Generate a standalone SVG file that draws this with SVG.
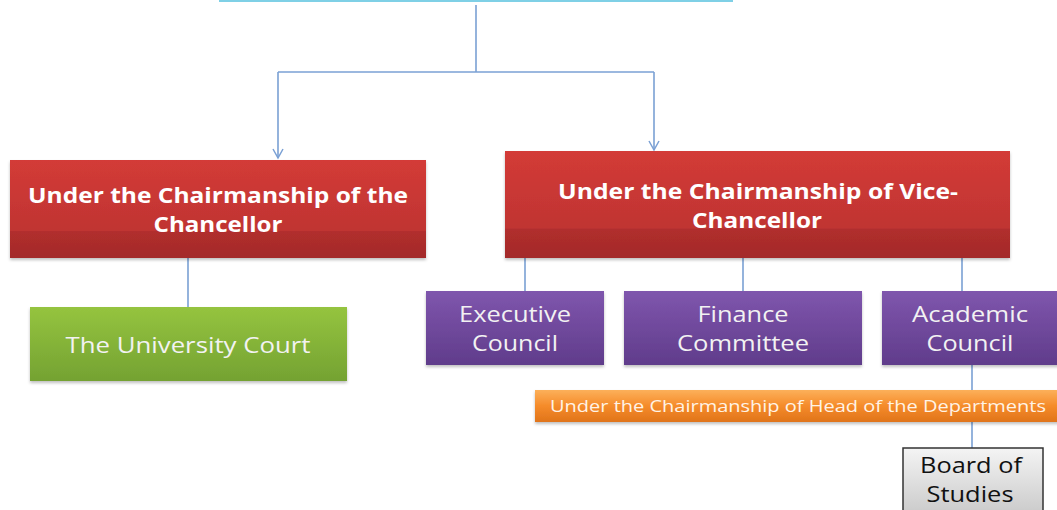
<svg xmlns="http://www.w3.org/2000/svg" width="1057" height="510" viewBox="0 0 1057 510">
<defs>
<linearGradient id="gRed" x1="0" y1="0" x2="0" y2="1">
<stop offset="0" stop-color="#d33b37"/><stop offset="0.72" stop-color="#c03432"/><stop offset="0.73" stop-color="#b12e2d"/><stop offset="1" stop-color="#a32a2a"/>
</linearGradient>
<linearGradient id="gGreen" x1="0" y1="0" x2="0" y2="1">
<stop offset="0" stop-color="#95c43f"/><stop offset="1" stop-color="#74a232"/>
</linearGradient>
<linearGradient id="gPurple" x1="0" y1="0" x2="0" y2="1">
<stop offset="0" stop-color="#7f56ad"/><stop offset="1" stop-color="#603c8b"/>
</linearGradient>
<linearGradient id="gOrange" x1="0" y1="0" x2="0" y2="1">
<stop offset="0" stop-color="#fcb05a"/><stop offset="0.5" stop-color="#f58b2a"/><stop offset="1" stop-color="#e0741a"/>
</linearGradient>
<linearGradient id="gGrey" x1="0" y1="0" x2="0" y2="1">
<stop offset="0" stop-color="#f4f4f4"/><stop offset="1" stop-color="#c8c8c8"/>
</linearGradient>
<marker id="arr" markerWidth="12" markerHeight="12" refX="10" refY="6" orient="auto" markerUnits="userSpaceOnUse" viewBox="0 0 12 12">
<path d="M1,1 L10,6 L1,11" fill="none" stroke="#7aa0d4" stroke-width="1.5"/>
</marker>
<filter id="sh" x="-5%" y="-10%" width="110%" height="130%">
<feDropShadow dx="0" dy="2" stdDeviation="1.5" flood-color="#000" flood-opacity="0.25"/>
</filter>
</defs>
<style>
.c{fill:none;stroke:#7aa0d4;stroke-width:1.6}
.tb{font-family:"Open Sans",Lato,sans-serif;font-weight:bold;font-size:21px;fill:#fff;text-anchor:middle}
.tw{font-family:"Open Sans",Lato,sans-serif;font-size:22px;fill:#f2f2f2;text-anchor:middle}
.to{font-family:"Open Sans",Lato,sans-serif;font-size:16px;fill:#fff3e6;text-anchor:middle}
.tk{font-family:"Open Sans",Lato,sans-serif;font-size:22px;fill:#111;text-anchor:middle}
</style>
<g id="connectors">
<path class="c" d="M476,5 V72"/>
<path class="c" d="M278,72 H654"/>
<path class="c" d="M278,72 V158" marker-end="url(#arr)"/>
<path class="c" d="M654,72 V150" marker-end="url(#arr)"/>
<path class="c" d="M188,258 V307"/>
<path class="c" d="M525,258 V291"/>
<path class="c" d="M743,258 V291"/>
<path class="c" d="M962,258 V291"/>
<path class="c" d="M972,365 V390"/>
<path class="c" d="M972,422 V449"/>
</g>
<g id="top">
<rect x="220" y="-40" width="512" height="41" fill="#fff" stroke="#7fd0e6" stroke-width="2"/>
</g>
<g id="chancellor">
<rect x="10" y="160" width="416" height="98" fill="url(#gRed)" filter="url(#sh)"/>
<text class="tb" x="218" y="203" textLength="380" lengthAdjust="spacingAndGlyphs">Under the Chairmanship of the</text>
<text class="tb" x="218" y="232" textLength="129" lengthAdjust="spacingAndGlyphs">Chancellor</text>
</g>
<g id="vicechancellor">
<rect x="505" y="151" width="505" height="107" fill="url(#gRed)" filter="url(#sh)"/>
<text class="tb" x="758" y="199" textLength="400" lengthAdjust="spacingAndGlyphs">Under the Chairmanship of Vice-</text>
<text class="tb" x="757" y="228" textLength="130" lengthAdjust="spacingAndGlyphs">Chancellor</text>
</g>
<g id="court">
<rect x="30" y="307" width="317" height="74" fill="url(#gGreen)" filter="url(#sh)"/>
<text class="tw" x="188" y="353" textLength="245" lengthAdjust="spacingAndGlyphs">The University Court</text>
</g>
<g id="executive">
<rect x="426" y="291" width="178" height="74" fill="url(#gPurple)" filter="url(#sh)"/>
<text class="tw" x="515" y="322" textLength="112" lengthAdjust="spacingAndGlyphs">Executive</text>
<text class="tw" x="515" y="351" textLength="86" lengthAdjust="spacingAndGlyphs">Council</text>
</g>
<g id="finance">
<rect x="624" y="291" width="238" height="74" fill="url(#gPurple)" filter="url(#sh)"/>
<text class="tw" x="743" y="322" textLength="91" lengthAdjust="spacingAndGlyphs">Finance</text>
<text class="tw" x="743" y="351" textLength="132" lengthAdjust="spacingAndGlyphs">Committee</text>
</g>
<g id="academic">
<rect x="882" y="291" width="180" height="74" fill="url(#gPurple)" filter="url(#sh)"/>
<text class="tw" x="970" y="322" textLength="116" lengthAdjust="spacingAndGlyphs">Academic</text>
<text class="tw" x="970" y="351" textLength="87" lengthAdjust="spacingAndGlyphs">Council</text>
</g>
<g id="heads">
<rect x="535" y="390" width="530" height="32" fill="url(#gOrange)" filter="url(#sh)"/>
<text class="to" x="798" y="412" textLength="496" lengthAdjust="spacingAndGlyphs">Under the Chairmanship of Head of the Departments</text>
</g>
<g id="board">
<rect x="903" y="448" width="140" height="70" fill="url(#gGrey)" stroke="#333" stroke-width="1.5"/>
<text class="tk" x="971" y="473" textLength="102" lengthAdjust="spacingAndGlyphs">Board of</text>
<text class="tk" x="970" y="502" textLength="87" lengthAdjust="spacingAndGlyphs">Studies</text>
</g>
</svg>
